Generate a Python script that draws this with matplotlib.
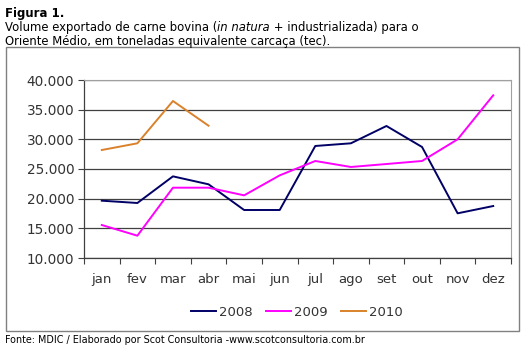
import matplotlib
matplotlib.use("Agg")
import matplotlib.pyplot as plt
from matplotlib.patches import Rectangle
from matplotlib.ticker import FuncFormatter

months = ["jan", "fev", "mar", "abr", "mai", "jun", "jul", "ago", "set", "out", "nov", "dez"]
v2008 = [19660, 19270, 23760, 22420, 18090, 18090, 28880, 29330, 32250, 28710, 17530, 18760]
v2009 = [15560, 13760, 21850, 21850, 20560, 23930, 26350, 25340, 25840, 26350, 30000, 37420]
v2010 = [28200, 29330, 36460, 32300]
series_names = ["2008", "2009", "2010"]
colors = ["#000066", "#FF00FF", "#D9822B"]

fig = plt.figure(figsize=(5.30, 3.49), dpi=100)
W, H = 530, 349

# outer chart border
fig.patches.append(Rectangle((6 / W, 1 - 331 / H), (519 - 6) / W, (331 - 47) / H,
                             transform=fig.transFigure, fill=False,
                             edgecolor="#808080", linewidth=1.0))

ax = fig.add_axes([84 / W, 1 - 258 / H, (511 - 84) / W, (258 - 80) / H])
x = list(range(len(months)))
for vals, name, c in zip([v2008, v2009, v2010], series_names, colors):
    ax.plot(x[:len(vals)], vals, color=c, linewidth=1.4, label=name)

ax.set_xlim(-0.5, 11.5)
ax.set_ylim(10000, 40000)
ax.set_yticks(range(10000, 40001, 5000))
ax.yaxis.set_major_formatter(FuncFormatter(lambda v, p: f"{int(v):,}".replace(",", ".")))
ax.set_xticks([i + 0.5 for i in range(-1, 12)])
ax.set_xticklabels([])
ax.set_xticks(x, minor=True)
ax.set_xticklabels(months, minor=True)
ax.tick_params(axis="x", which="minor", length=0, pad=11, labelsize=9.5, labelcolor="#333333")
ax.tick_params(axis="x", which="major", length=4, direction="out", color="#404040")
ax.tick_params(axis="y", length=4, direction="out", color="#404040", labelsize=9.8,
               labelcolor="#333333", pad=3)
ax.grid(axis="y", color="#404040", linewidth=0.9)
ax.set_axisbelow(True)
for s in ["top", "right"]:
    ax.spines[s].set_color("#A0A0A0")
    ax.spines[s].set_linewidth(0.8)
for s in ["left", "bottom"]:
    ax.spines[s].set_color("#404040")
    ax.spines[s].set_linewidth(0.9)

leg = fig.legend(loc="center", bbox_to_anchor=(297 / W, 1 - 312 / H), ncol=3, frameon=False,
                 fontsize=9.5, handlelength=1.9, handletextpad=0.25, columnspacing=1.0)
for t in leg.get_texts():
    t.set_color("#333333")

# titles
fig.text(5 / W, 1 - 17 / H, "Figura 1.", fontsize=8.5, fontweight="bold", va="baseline", ha="left")
y2 = 1 - 31 / H
t1 = fig.text(5 / W, y2, "Volume exportado de carne bovina (", fontsize=8.4,
              va="baseline", ha="left")
t2 = fig.text(0, y2, "in natura", fontsize=8.4, style="italic", va="baseline", ha="left")
t3 = fig.text(0, y2, " + industrializada) para o", fontsize=8.4, va="baseline", ha="left")
fig.canvas.draw()
r = fig.canvas.get_renderer()
bb1 = t1.get_window_extent(r)
t2.set_position((bb1.x1 / fig.bbox.width, y2))
fig.canvas.draw()
bb2 = t2.get_window_extent(r)
t3.set_position((bb2.x1 / fig.bbox.width, y2))
fig.text(5 / W, 1 - 45 / H, "Oriente Médio, em toneladas equivalente carcaça (tec).",
         fontsize=8.4, va="baseline", ha="left")
fig.text(5 / W, 1 - 340 / H, "Fonte: MDIC / Elaborado por Scot Consultoria -www.scotconsultoria.com.br",
         fontsize=6.9, va="center", ha="left")

fig.savefig("out.png", dpi=100)
